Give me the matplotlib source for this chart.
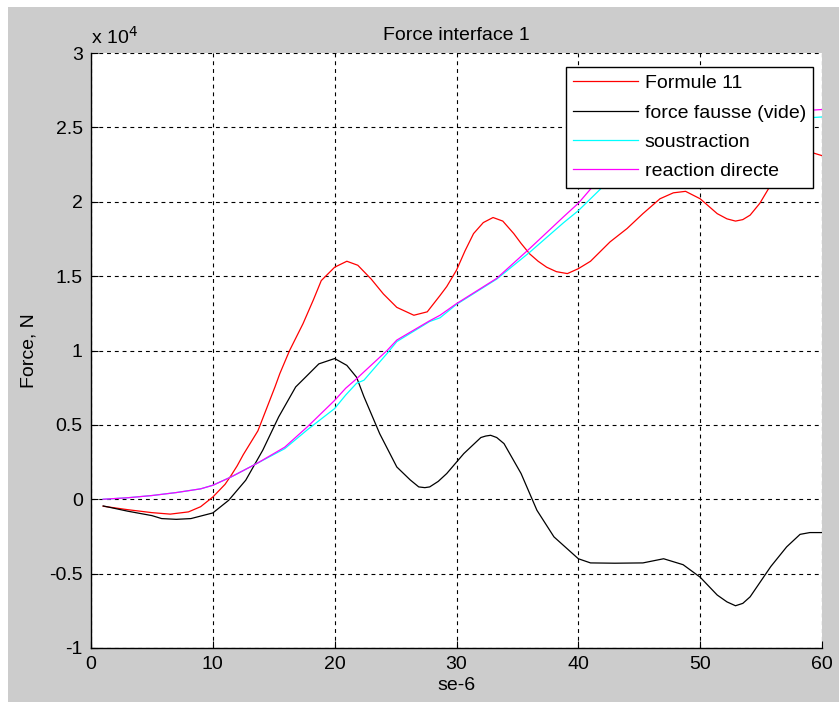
import matplotlib
matplotlib.use("Agg")
import matplotlib.pyplot as plt
from matplotlib.patches import Rectangle
from matplotlib.ticker import FuncFormatter

plt.rcParams['font.family'] = ['Liberation Sans', 'DejaVu Sans']

# ---- data (Force in N, time in se-6) ----
t_red = [1, 3, 5, 6.5, 8, 9, 10, 11, 11.5, 12, 12.5, 13.7, 15.1, 15.5, 16.3, 17.4, 18.25,
         18.9, 20, 21, 21.9, 23, 24, 25.1, 26.5, 27.6, 28.65, 29.2, 30, 30.7, 31.4, 32.2,
         33, 33.8, 34.7, 35.3, 36, 36.7, 37.4, 38.2, 39.1, 40, 41, 42.6, 44, 45.3, 46.7,
         47.8, 48.8, 50, 51.4, 52.2, 52.9, 53.5, 54.1, 54.9, 55.7, 57, 58, 59, 60]
formule11 = [-470, -700, -900, -1000, -850, -500, 150, 1000, 1600, 2250, 3000, 4600, 7550,
             8450, 10000, 11800, 13400, 14700, 15600, 16000, 15730, 14800, 13800, 12900,
             12370, 12600, 13700, 14300, 15400, 16700, 17860, 18600, 18940, 18700, 17860,
             17200, 16500, 16000, 15600, 15300, 15170, 15500, 16000, 17300, 18200, 19200,
             20200, 20600, 20700, 20200, 19200, 18850, 18700, 18800, 19100, 19900, 21000,
             22400, 23100, 23350, 23100]

t_black = [1, 3, 5, 5.8, 7, 8.2, 10, 11.3, 12.7, 14.1, 15.4, 16.8, 17.6, 18.7, 20, 21, 21.8,
           22.4, 23.7, 25.1, 26.2, 26.9, 27.4, 27.8, 28.5, 29.2, 30.6, 32, 32.4, 32.8,
           33.3, 33.9, 35.3, 36.6, 38, 40, 41, 43, 45.3, 47, 48.6, 50, 51.4, 52.2, 52.9,
           53.5, 54.1, 55.8, 57.1, 58.2, 59, 60]
force_fausse = [-450, -800, -1100, -1300, -1350, -1300, -920, -70, 1280, 3300, 5530, 7550,
                8200, 9100, 9460, 9000, 8200, 6900, 4400, 2170, 1300, 830, 780, 830, 1200,
                1730, 3070, 4150, 4250, 4300, 4150, 3740, 1730, -740, -2530, -4000, -4280,
                -4300, -4280, -4000, -4400, -5240, -6440, -6900, -7160, -7000, -6560, -4520,
                -3200, -2360, -2240, -2240]

t_smooth = [1, 3, 5, 7, 9, 10, 11.5, 13.6, 15.9, 17.8, 20, 20.9, 21.8, 22.4, 24.3, 25.1,
            27.8, 28.65, 30, 33.3, 36, 38.8, 40, 42, 44, 46, 48, 50, 52, 54, 56, 58, 60]
reaction_directe = [0, 100, 250, 450, 700, 940, 1500, 2400, 3500, 4900, 6650, 7460, 8100,
                    8560, 10000, 10700, 12000, 12370, 13150, 14850, 16850, 19000, 19900,
                    21800, 23100, 24100, 24800, 25300, 25600, 25800, 26000, 26100, 26200]
soustraction = [0, 100, 250, 450, 700, 940, 1500, 2400, 3400, 4700, 6100, 7000, 7800, 8000,
                9800, 10600, 11950, 12200, 13100, 14800, 16600, 18600, 19400, 21000, 22200,
                23300, 24100, 24700, 25100, 25300, 25500, 25600, 25700]

labels = ['Formule 11', 'force fausse (vide)', 'soustraction', 'reaction directe']
title = 'Force interface 1'
xlabel = 'se-6'
ylabel = 'Force, N'
xticks = [0, 10, 20, 30, 40, 50, 60]
yticks = [-10000, -5000, 0, 5000, 10000, 15000, 20000, 25000, 30000]

# ---- figure ----
W, H = 839, 702
fig = plt.figure(figsize=(W / 100, H / 100), dpi=100, facecolor='white')
fig.patches.append(Rectangle((8 / W, 0), 1 - 8 / W, 1 - 7 / H, transform=fig.transFigure,
                             facecolor='#cccccc', edgecolor='none', zorder=-10))

ax = fig.add_axes([91 / W, 54 / H, 731 / W, 595 / H])
ax.set_facecolor('white')

lw = 0.9
ax.plot(t_red, formule11, color='#ff0000', lw=lw, label=labels[0])
ax.plot(t_black, force_fausse, color='black', lw=lw, label=labels[1])
ax.plot(t_smooth, soustraction, color='#00ffff', lw=lw, label=labels[2])
ax.plot(t_smooth, reaction_directe, color='#ff00ff', lw=lw, label=labels[3])

ax.set_xlim(0, 60)
ax.set_ylim(-10000, 30000)
ax.set_xticks(xticks)
ax.set_yticks(yticks)
ax.yaxis.set_major_formatter(FuncFormatter(lambda v, p: '%g' % (v / 1e4)))

fs = 14
ax.tick_params(direction='in', length=5, width=0.8, labelsize=fs, colors='black',
               top=False, right=False)
ax.tick_params(axis='x', pad=6)
ax.tick_params(axis='y', pad=6)
for s in ['top', 'right']:
    ax.spines[s].set_visible(False)
for s in ['left', 'bottom']:
    ax.spines[s].set_linewidth(1.0)

ax.grid(True, color='black', linestyle=(0, (3.5, 3.5)), linewidth=0.8)
ax.set_axisbelow(True)

ax.set_title(title, fontsize=fs, pad=9)
ax.set_xlabel(xlabel, fontsize=fs, labelpad=3)
ax.set_ylabel(ylabel, fontsize=fs, labelpad=8)
ax.text(0.0, 1.008, r'x 10$^{4}$', transform=ax.transAxes, fontsize=fs,
        ha='left', va='bottom')

leg = ax.legend(loc='upper right', bbox_to_anchor=(0.988, 0.976), borderaxespad=0,
                fontsize=fs, fancybox=False, framealpha=1, edgecolor='black',
                handlelength=3.3, handletextpad=0.36, labelspacing=0.6,
                borderpad=0.38)
leg.get_frame().set_linewidth(1.0)

fig.savefig('out.png', dpi=100, facecolor=fig.get_facecolor())
